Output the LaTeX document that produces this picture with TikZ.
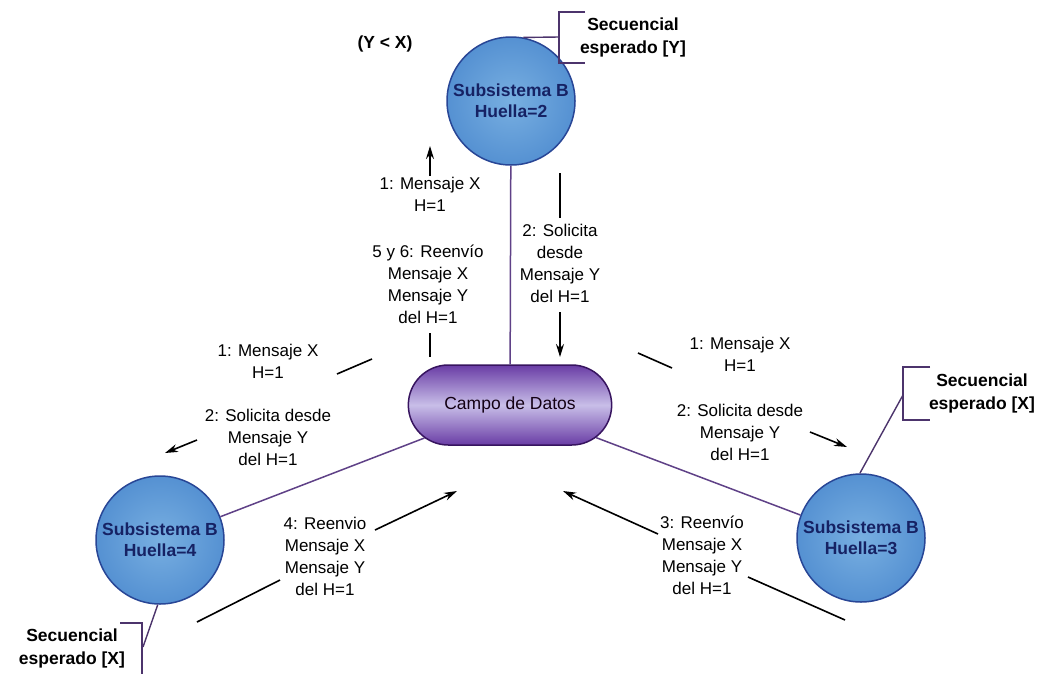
\documentclass[tikz,border=0pt]{standalone}
\usepackage{fontspec}
\setmainfont{Liberation Sans}
\usetikzlibrary{arrows.meta,shapes.misc}
\definecolor{ballfill}{RGB}{85,145,210}
\definecolor{ballinner}{RGB}{120,175,225}
\definecolor{balledge}{RGB}{40,70,150}
\definecolor{balltext}{RGB}{22,34,100}
\definecolor{capdark}{RGB}{105,60,165}
\definecolor{caplight}{RGB}{200,190,232}
\definecolor{capedge}{RGB}{55,20,95}
\definecolor{linkcol}{RGB}{95,65,135}
\tikzset{
  ball/.style={circle, draw=balledge, line width=1.5pt, inner color=ballinner,
    outer color=ballfill, minimum size=128pt, inner sep=0pt, align=center,
    font=\fontsize{17.5}{21}\selectfont\bfseries, text=balltext},
  capsule/.style={rounded rectangle, draw=capedge, line width=1.5pt,
    top color=capdark, bottom color=capdark, middle color=caplight,
    minimum width=210pt, minimum height=80pt, font=\fontsize{17.5}{21}\selectfont,
    text=black!85!violet},
  lbl/.style={align=center, font=\fontsize{17}{22}\selectfont, inner sep=1pt},
  seq/.style={align=center, font=\fontsize{17.5}{23}\selectfont\bfseries, inner sep=1pt},
  link/.style={draw=linkcol, line width=1.5pt},
  brk/.style={draw=linkcol!80!black, line width=1.4pt},
  msg/.style={draw=black, line width=1.6pt},
  msgarrow/.style={msg, -{Stealth[length=13pt,width=8pt]}},
}
\begin{document}
\begin{tikzpicture}[x=1pt,y=-1pt]
\useasboundingbox (0,0) rectangle (1039,673);
\fill[white] (0,0) rectangle (1039,673);

% nodes
\node[ball] (b2) at (511,101) {Subsistema B\\Huella=2};
\node[ball] (b4) at (160,540) {Subsistema B\\Huella=4};
\node[ball] (b3) at (861,538) {Subsistema B\\Huella=3};
\node[capsule] (cd) at (510,405) {Campo de Datos};

% links to the data field
\draw[link] (b2) -- (cd);
\draw[link] (cd) -- (b4);
\draw[link] (cd) -- (b3);

% expected-sequence brackets
\coordinate (t1) at (585,12); \coordinate (t2) at (559,12);
\coordinate (t3) at (559,63); \coordinate (t4) at (585,63);
\coordinate (tm) at (559,37);
\draw[brk] (t1) -- (t2) -- (t3) -- (t4);
\draw[brk] (b2.79) -- (tm);
\node[seq] (sy) at (633,37) {Secuencial\\esperado [Y]};
\node[seq] (yx) at (385,44) {(Y < X)};

\coordinate (r1) at (930,367); \coordinate (r2) at (903,367);
\coordinate (r3) at (903,420); \coordinate (r4) at (930,420);
\coordinate (rm) at (903,395);
\draw[brk] (r1) -- (r2) -- (r3) -- (r4);
\draw[brk] (b3.91) -- (rm);
\node[seq] (sx1) at (982,393) {Secuencial\\esperado [X]};

\coordinate (l1) at (120,623); \coordinate (l2) at (142,623);
\coordinate (l3) at (142,680);
\coordinate (lm) at (143,647);
\draw[brk] (l1) -- (l2) -- (l3);
\draw[brk] (b4.-92) -- (lm);
\node[seq] (sx2) at (72,648) {Secuencial\\esperado [X]};

% messages between B2 and the data field
\node[lbl] (m1a) at (430,194) {1: Mensaje X\\H=1};
\coordinate (m1a0) at (430,176); \coordinate (m1a1) at (430,146);
\draw[msgarrow] (m1a0) -- (m1a1);

\node[lbl] (m2a) at (560,263) {2: Solicita\\desde\\Mensaje Y\\del H=1};
\coordinate (m2a0) at (560,173); \coordinate (m2a1) at (560,218);
\coordinate (m2a2) at (560,312); \coordinate (m2a3) at (560,357);
\draw[msg] (m2a0) -- (m2a1);
\draw[msgarrow] (m2a2) -- (m2a3);

\node[lbl] (m5) at (428,284) {5 y 6: Reenvío\\Mensaje X\\Mensaje Y\\del H=1};
\coordinate (m50) at (430,333); \coordinate (m51) at (430,357);
\draw[msg] (m50) -- (m51);

% messages toward B4
\node[lbl] (m1b) at (268,361) {1: Mensaje X\\H=1};
\coordinate (m1b0) at (372,359); \coordinate (m1b1) at (337,374);
\draw[msg] (m1b0) -- (m1b1);

\node[lbl] (m2b) at (268,437) {2: Solicita desde\\Mensaje Y\\del H=1};
\coordinate (m2b0) at (197,440); \coordinate (m2b1) at (165,453);
\draw[msgarrow] (m2b0) -- (m2b1);

\node[lbl] (m4) at (325,556) {4: Reenvio\\Mensaje X\\Mensaje Y\\del H=1};
\coordinate (m40) at (197,622); \coordinate (m41) at (280,580);
\coordinate (m42) at (375,530); \coordinate (m43) at (457,491);
\draw[msg] (m40) -- (m41);
\draw[msgarrow] (m42) -- (m43);

% messages toward B3
\node[lbl] (m1c) at (740,354) {1: Mensaje X\\H=1};
\coordinate (m1c0) at (638,353); \coordinate (m1c1) at (672,368);
\draw[msg] (m1c0) -- (m1c1);

\node[lbl] (m2c) at (740,432) {2: Solicita desde\\Mensaje Y\\del H=1};
\coordinate (m2c0) at (810,432); \coordinate (m2c1) at (847,447);
\draw[msgarrow] (m2c0) -- (m2c1);

\node[lbl] (m3) at (702,555) {3: Reenvío\\Mensaje X\\Mensaje Y\\del H=1};
\coordinate (m30) at (845,620); \coordinate (m31) at (748,577);
\coordinate (m32) at (658,534); \coordinate (m33) at (563,491);
\draw[msg] (m30) -- (m31);
\draw[msgarrow] (m32) -- (m33);
\end{tikzpicture}
\end{document}
